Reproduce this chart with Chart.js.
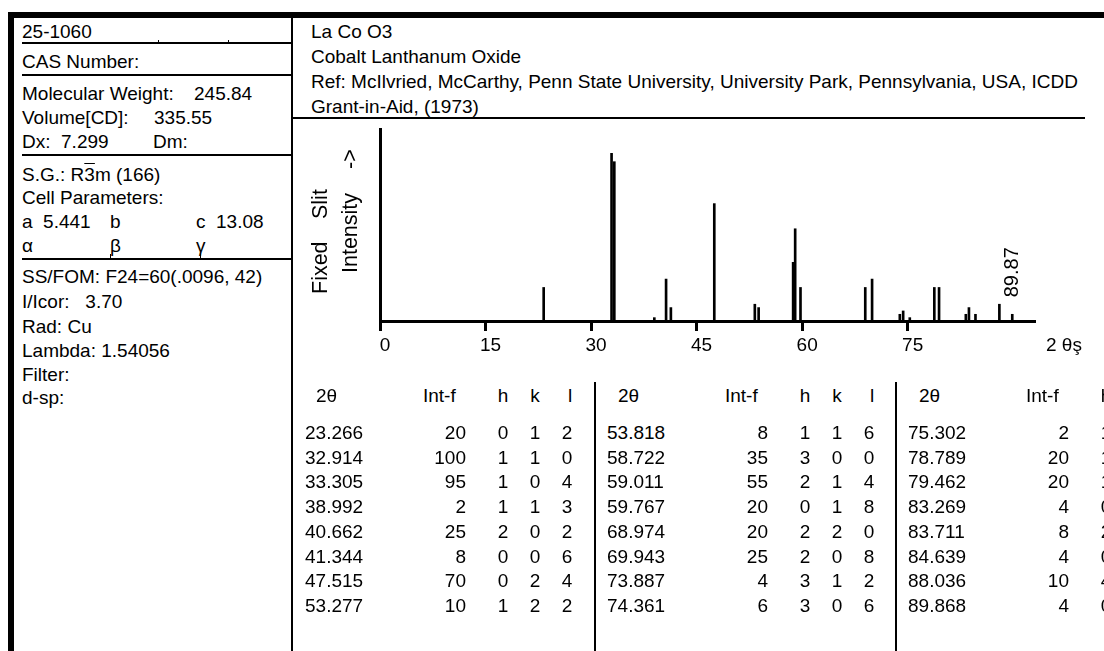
<!DOCTYPE html>
<html>
<head>
<meta charset="utf-8">
<script src="https://cdn.jsdelivr.net/npm/chart.js@4.4.1/dist/chart.umd.min.js"></script>
<style>
    html, body { margin: 0; padding: 0; background: #fff; }
    #card { position: relative; width: 1104px; height: 651px; overflow: hidden; font-family: 'Liberation Sans', Arial, sans-serif; font-size: 19px; color: #000; }
    .t { position: absolute; white-space: pre; line-height: 22px; height: 22px; }
    .ln { position: absolute; background: #000; }
    .rot { position: absolute; white-space: pre; line-height: 24px; font-size: 21.5px; transform-origin: 0 0; transform: rotate(-90deg); }
    #plot { position: absolute; left: 293px; top: 120px; width: 811px; height: 250px; }
</style>
</head>
<body>
<div id="card">
    <div id="plot"><canvas id="xrd" width="811" height="250"></canvas></div>
</div>
<script>
// peak list of card 25-1060 (2θ, Int-f, h k l)
const peakAngles = [23.266, 32.914, 33.305, 38.992, 40.662, 41.344, 47.515, 53.277,
    53.818, 58.722, 59.011, 59.767, 68.974, 69.943, 73.887, 74.361,
    75.302, 78.789, 79.462, 83.269, 83.711, 84.639, 88.036, 89.868]
const peakIntensities = [20, 100, 95, 2, 25, 8, 70, 10,
    8, 35, 55, 20, 20, 25, 4, 6,
    2, 20, 20, 4, 8, 4, 10, 4]
const millerH = [0, 1, 1, 1, 2, 0, 0, 1, 1, 3, 2, 0, 2, 2, 3, 3, 1, 1, 1, 0, 2, 0, 4, 0]
const millerK = [1, 1, 0, 1, 0, 0, 2, 2, 1, 0, 1, 1, 2, 0, 1, 0]
const millerL = [2, 0, 4, 3, 2, 6, 4, 2, 6, 0, 4, 8, 0, 8, 2, 6]
const xTickValues = [0, 15, 30, 45, 60, 75]

const card = document.getElementById('card')

function put(str, x, y, align, cls, html) {
    const d = document.createElement('div')
    d.className = cls || 't'
    if (html) d.innerHTML = str
    else d.textContent = str
    if (align == 'right') {
        d.style.left = (x - 80) + 'px'
        d.style.width = '80px'
        d.style.textAlign = 'right'
    } else if (align == 'center') {
        d.style.left = (x - 20) + 'px'
        d.style.width = '40px'
        d.style.textAlign = 'center'
    } else {
        d.style.left = x + 'px'
    }
    d.style.top = (y - 11) + 'px'
    card.appendChild(d)
    return d
}

function line(x, y, w, h) {
    const d = document.createElement('div')
    d.className = 'ln'
    d.style.left = x + 'px'
    d.style.top = y + 'px'
    d.style.width = w + 'px'
    d.style.height = h + 'px'
    card.appendChild(d)
}

function rotated(str, cx, bottom) {
    const d = document.createElement('div')
    d.className = 'rot'
    d.textContent = str
    d.style.left = (cx - 12) + 'px'
    d.style.top = bottom + 'px'
    card.appendChild(d)
}

// frame
line(8, 12, 1096, 6)
line(8, 12, 6, 639)
line(291, 18, 2, 633)
line(22, 42, 270, 2)
line(22, 74, 270, 2)
line(22, 154, 270, 2)
line(22, 258, 270, 2)
line(158, 40, 1, 3)
line(228, 40, 1, 3)
line(110, 254, 1, 5)
line(200, 254, 1, 5)
line(293, 117, 792, 2)
line(594, 382, 2, 269)
line(895, 382, 2, 269)

// left panel
put('25-1060', 22, 32)
put('CAS Number:', 22, 62)
put('Molecular Weight:', 22, 94)
put('245.84', 194, 94)
put('Volume[CD]:', 22, 118)
put('335.55', 154, 118)
put('Dx:  7.299', 22, 142)
put('Dm:', 153, 142)
put('S.G.: R<span style="text-decoration:overline">3</span>m (166)', 22, 175, null, null, true)
put('Cell Parameters:', 22, 198)
put('a  5.441', 22, 222)
put('b', 110, 222)
put('c  13.08', 196, 222)
put('α', 22, 246)
put('β', 110, 246)
put('γ', 196, 246)
put('SS/FOM: F24=60(.0096, 42)', 22, 277)
put('I/Icor:   3.70', 22, 302)
put('Rad: Cu', 22, 327)
put('Lambda: 1.54056', 22, 351)
put('Filter:', 22, 375)
put('d-sp:', 22, 398)

// header
put('La Co O3', 311, 32)
put('Cobalt Lanthanum Oxide', 311, 57)
put('Ref: McIlvried, McCarthy, Penn State University, University Park, Pennsylvania, USA, ICDD', 311, 82)
put('Grant-in-Aid, (1973)', 311, 107)

// axis titles
rotated('Fixed', 320, 294)
rotated('Slit', 320, 219)
rotated('Intensity', 350, 273)
rotated('->', 350, 169)
put('2 θş', 1046, 345)

// peak table
const colLeft = [293, 595, 896]
colLeft.forEach((d, c) => {
    put('2θ', d + 23, 396)
    put('Int-f', d + 130, 396)
    put('h', d + 210, 396, 'center')
    if (c < 2) {
        put('k', d + 242, 396, 'center')
        put('l', d + 277, 396, 'center')
    }
    for (let r = 0; r < 8; r++) {
        const i = c * 8 + r
        const y = 433 + r * 24.7
        put(peakAngles[i].toFixed(3), d + 12, y)
        put(String(peakIntensities[i]), d + 173, y, 'right')
        put(String(millerH[i]), d + 210, y, 'center')
        if (i < millerK.length) {
            put(String(millerK[i]), d + 242, y, 'center')
            put(String(millerL[i]), d + 274, y, 'center')
        }
    }
})

// stick pattern
Chart.defaults.font.family = "'Liberation Sans', Arial, sans-serif"
Chart.defaults.color = '#000'

const lastPeakLabel = {
    id: 'lastPeakLabel',
    afterDatasetsDraw(chart) {
        const meta = chart.getDatasetMeta(0)
        const last = meta.data[meta.data.length - 1]
        const ctx = chart.ctx
        ctx.save()
        ctx.translate(last.x, last.y - 17)
        ctx.rotate(-Math.PI / 2)
        ctx.font = "20px 'Liberation Sans', Arial, sans-serif"
        ctx.fillStyle = '#000'
        ctx.textAlign = 'left'
        ctx.textBaseline = 'middle'
        ctx.fillText(peakAngles[peakAngles.length - 1].toFixed(2), 0, 0)
        ctx.restore()
    }
}

const ctx = document.getElementById('xrd').getContext('2d')
const xrdChart = new Chart(ctx, {
    type: 'bar',
    data: {
        datasets: [{
            data: peakAngles.map((a, i) => ({ x: a, y: peakIntensities[i] })),
            backgroundColor: '#000',
            borderWidth: 0,
            barThickness: 2
        }]
    },
    options: {
        responsive: false,
        animation: false,
        devicePixelRatio: 1,
        layout: { padding: { left: 0, top: 9, right: 69, bottom: 0 } },
        plugins: {
            legend: { display: false },
            tooltip: { enabled: false }
        },
        scales: {
            x: {
                type: 'linear',
                min: 0,
                max: 93.1,
                offset: false,
                grid: {
                    display: true,
                    offset: false,
                    drawOnChartArea: false,
                    drawTicks: true,
                    tickLength: 10,
                    tickWidth: 3,
                    tickColor: '#000'
                },
                border: { display: true, color: '#000', width: 3 },
                ticks: {
                    autoSkip: false,
                    maxRotation: 0,
                    color: '#000',
                    font: { size: 19 },
                    padding: 3,
                    labelOffset: 5
                },
                afterBuildTicks: (s) => { s.ticks = xTickValues.map(v => ({ value: v })) },
                afterFit: (s) => { s.height = 49 }
            },
            y: {
                min: 0,
                max: 114.5,
                grid: { display: false },
                border: { display: true, color: '#000', width: 3 },
                ticks: { display: false },
                afterFit: (s) => { s.width = 87 }
            }
        }
    },
    plugins: [lastPeakLabel]
})
</script>
</body>
</html>
